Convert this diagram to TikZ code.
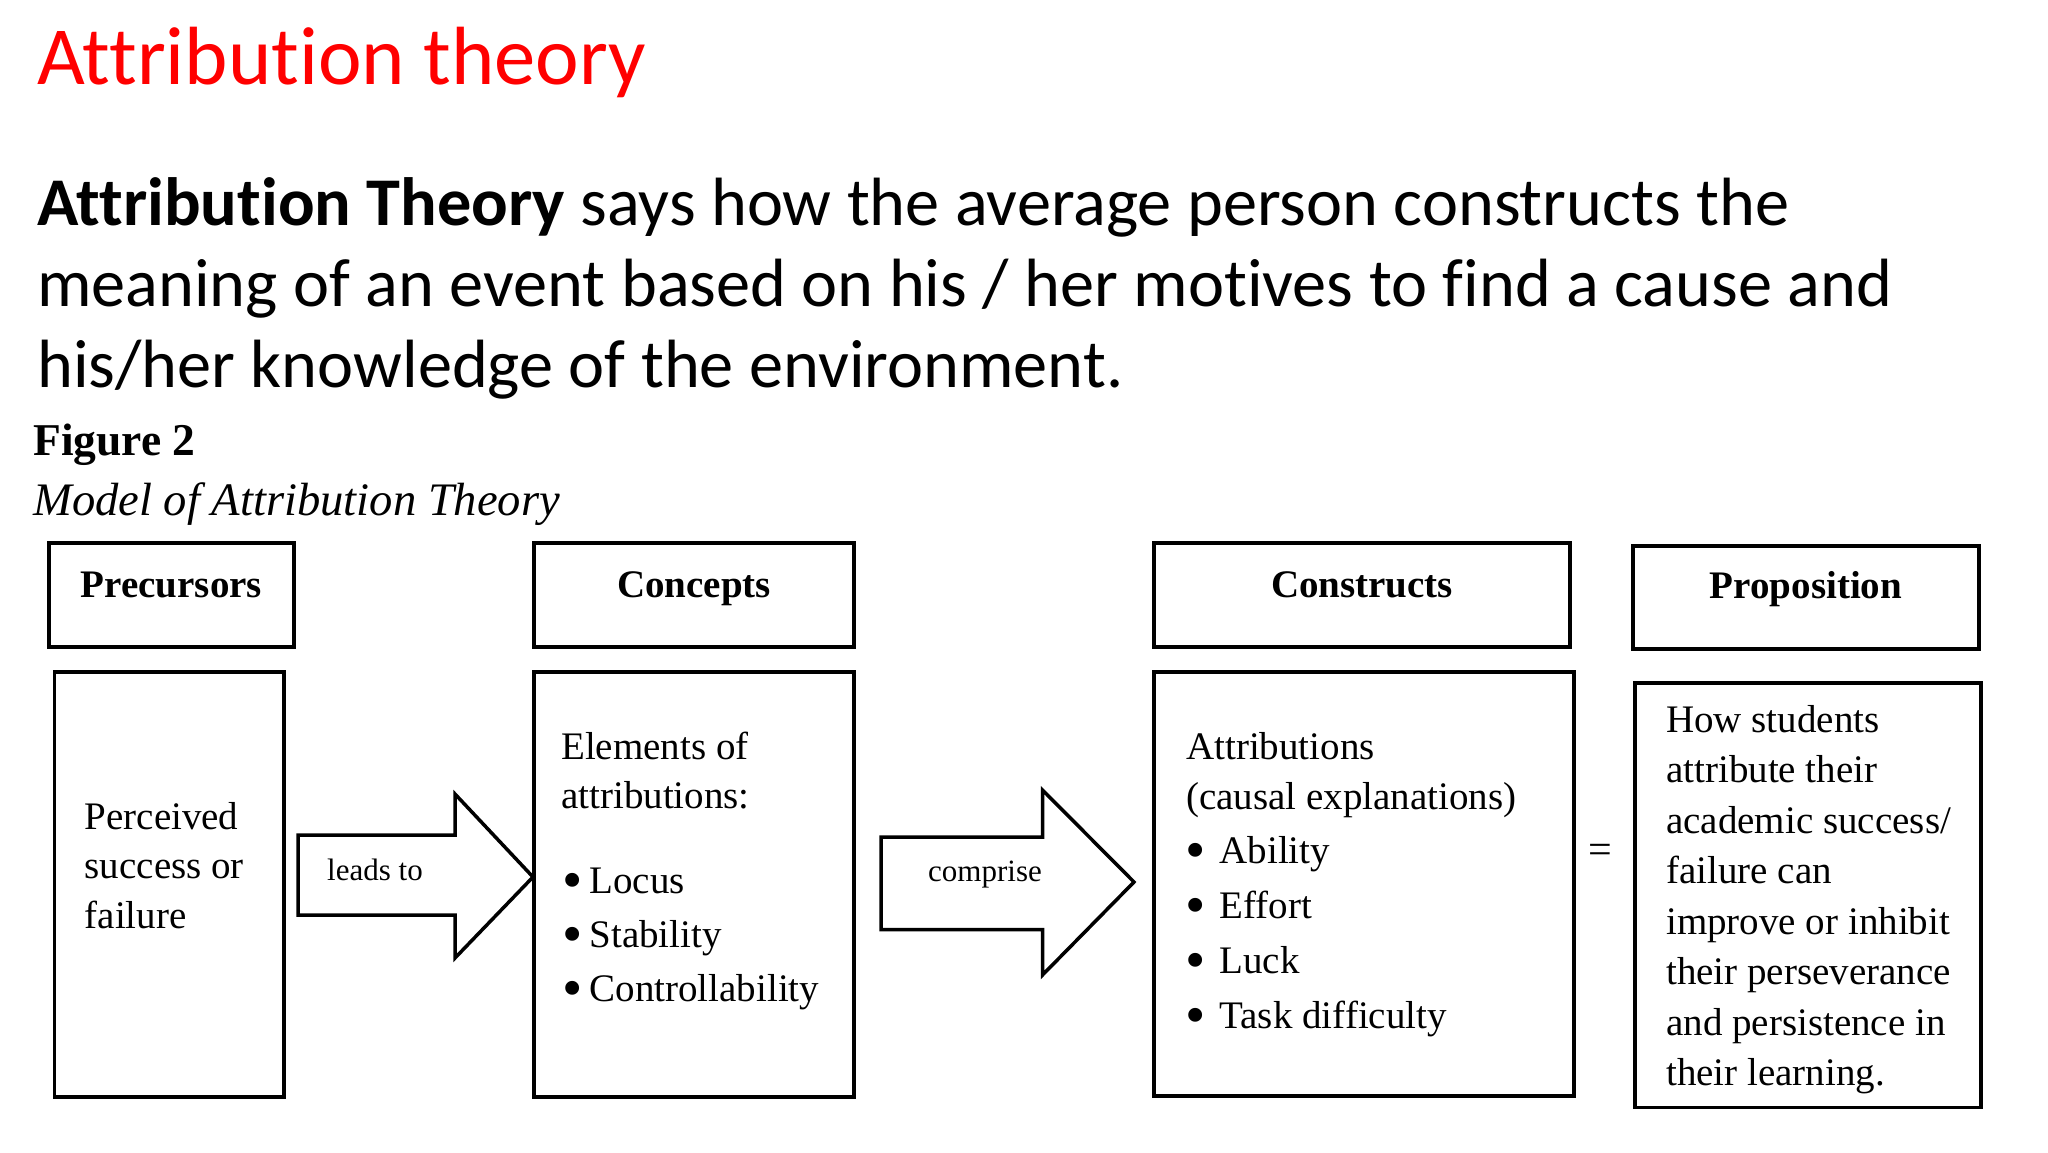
\documentclass[tikz,border=0pt]{standalone}
\usepackage{fontspec}
\setmainfont{Liberation Serif}[Ligatures=CommonOff]
\newfontfamily\calib{Carlito}[Ligatures=CommonOff]
\definecolor{titlered}{RGB}{255,0,0}
\newcommand\bul{\raisebox{-6pt}{\fontsize{58}{58}\selectfont\textbullet}}
\begin{document}
\begin{tikzpicture}[x=1pt,y=-1pt,
  box/.style={draw, line width=4pt, inner sep=0pt, outer sep=0pt},
  hd/.style={font=\fontsize{39}{47}\selectfont\bfseries, anchor=base, inner sep=0pt},
  txt/.style={font=\fontsize{39}{47}\selectfont, anchor=base west, inner sep=0pt},
  small/.style={font=\fontsize{31}{37}\selectfont, anchor=base, inner sep=0pt},
  blockarrow/.style={draw, line width=3.5pt, line join=miter, fill=white},
  body/.style={font=\calib\fontsize{68.3}{81}\selectfont, anchor=base west, inner sep=0pt}]
\path[use as bounding box, fill=white] (0,0) rectangle (2048,1152);

% title and text
\node[font=\calib\fontsize{82.6}{97}\selectfont, text=titlered, anchor=base west, inner sep=0pt] (title) at (37,84.5) {Attribution theory};
\node[body] (l1) at (37,225.5) {\textbf{Attribution Theory} says how the average person constructs the};
\node[body] (l2) at (37,306) {meaning of an event based on his / her motives to find a cause and};
\node[body] (l3) at (37,387) {his/her knowledge of the environment.};
\node[font=\fontsize{45.5}{55}\selectfont\bfseries, anchor=base west, inner sep=0pt] (fig) at (33,455) {Figure 2};
\node[font=\fontsize{46.6}{55}\selectfont\itshape, anchor=base west, inner sep=0pt] (cap) at (33,515) {Model of Attribution Theory};

% header boxes
\node[box, minimum width=245pt, minimum height=104pt] (hpre) at (171.5,595) {};
\node[box, minimum width=320pt, minimum height=104pt] (hcon) at (694,595) {};
\node[box, minimum width=416pt, minimum height=104pt] (hcst) at (1362,595) {};
\node[box, minimum width=346pt, minimum height=103pt] (hpro) at (1806,597.5) {};
\node[hd] (thpre) at (171.5,597) {Precursors};
\node[hd] (thcon) at (694,597) {Concepts};
\node[hd] (thcst) at (1362,597) {Constructs};
\node[hd] (thpro) at (1806,598.5) {Proposition};

% lower boxes
\node[box, line width=3.6pt, minimum width=229.5pt, minimum height=425pt] (bpre) at (169.25,884.5) {};
\node[box, line width=3.6pt, minimum width=320pt, minimum height=425pt] (bcon) at (694,884.5) {};
\node[box, line width=3.6pt, minimum width=420pt, minimum height=424pt] (bcst) at (1364,884) {};
\node[box, line width=3.6pt, minimum width=346pt, minimum height=424.5pt] (bpro) at (1808,895.25) {};

% precursors text
\node[txt] (p1) at (84.5,829) {Perceived};
\node[txt] (p2) at (84.5,878.5) {success or};
\node[txt] (p3) at (84.5,928) {failure};

% concepts text
\node[txt] (c1) at (561,759) {Elements of};
\node[txt] (c2) at (561,808.5) {attributions:};
\node[txt] (c3) at (562,893.5) {\bul\hspace{7pt}Locus};
\node[txt] (c4) at (562,947) {\bul\hspace{7pt}Stability};
\node[txt] (c5) at (562,1001.5) {\bul\hspace{7pt}Controllability};

% constructs text
\node[txt] (k1) at (1186,759) {Attributions};
\node[txt] (k2) at (1186,809) {(causal explanations)};
\node[txt] (k3) at (1185,863) {\bul\hspace{14pt}Ability};
\node[txt] (k4) at (1185,918) {\bul\hspace{14pt}Effort};
\node[txt] (k5) at (1185,973) {\bul\hspace{14pt}Luck};
\node[txt] (k6) at (1185,1028) {\bul\hspace{14pt}Task difficulty};

% proposition text
\node[txt] (r1) at (1666,732) {How students};
\node[txt] (r2) at (1666,782.5) {attribute their};
\node[txt] (r3) at (1666,833) {academic success/};
\node[txt] (r4) at (1666,883.5) {failure can};
\node[txt] (r5) at (1666,934) {improve or inhibit};
\node[txt] (r6) at (1666,984.5) {their perseverance};
\node[txt] (r7) at (1666,1035) {and persistence in};
\node[txt] (r8) at (1666,1085.5) {their learning.};

% equals sign
\node[font=\fontsize{42}{47}\selectfont, inner sep=0pt] (eq) at (1600,854) {=};

% block arrows
\draw[blockarrow] (298,835) -- (455,835) -- (455,794) -- (533,877) -- (455,958) -- (455,915) -- (298,915) -- cycle;
\node[small] (lead) at (375,880) {leads to};
\draw[blockarrow] (881,837) -- (1042.5,837) -- (1042.5,790) -- (1134,882) -- (1042.5,975) -- (1042.5,929.5) -- (881,929.5) -- cycle;
\node[small] (comp) at (985,881.5) {comprise};
\end{tikzpicture}
\end{document}
